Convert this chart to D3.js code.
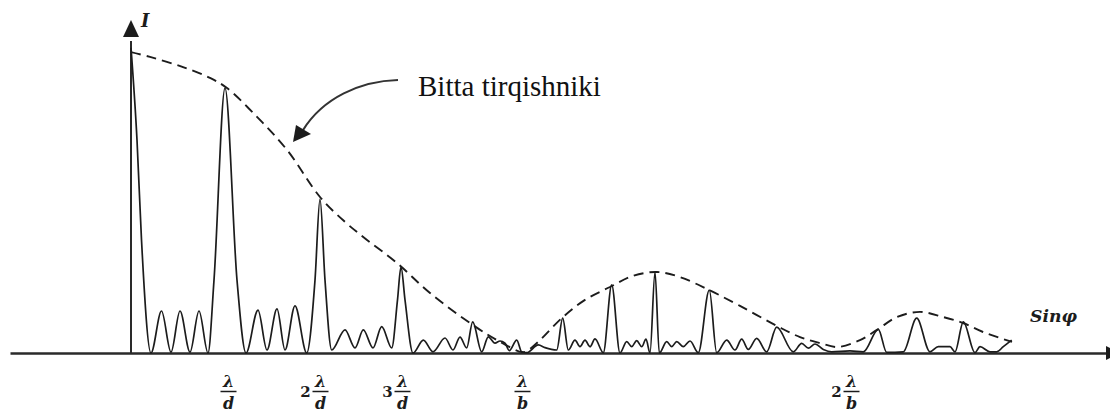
<!DOCTYPE html>
<html>
<head>
<meta charset="utf-8">
<script src="https://cdn.jsdelivr.net/npm/d3@7"></script>
<style>
  body { margin: 0; background: #fff; }
  svg { display: block; }
</style>
</head>
<body>
<svg id="chart" width="1110" height="412"></svg>
<script>
// Diffraction grating: intensity I versus sinφ (arbitrary units).
// Solid curve: grating pattern with principal maxima and weak ripples between them.
const gratingU = [
  0, 0.06, 0.105, 0.20,
  0.305, 0.40, 0.49, 0.59, 0.68, 0.77,
  0.83, 0.94, 1.06, 1.15,
  1.27, 1.36, 1.46, 1.54, 1.64, 1.757,
  1.84, 1.89, 1.94, 2.007,
  2.14, 2.24, 2.323, 2.42, 2.507, 2.607,
  2.665, 2.70, 2.74, 2.82,
  2.923, 3.02, 3.14, 3.22, 3.29, 3.357,
  3.417, 3.507, 3.573, 3.64, 3.69, 3.74, 3.783, 3.857, 3.907, 3.957,
  4.073, 4.14, 4.257, 4.317, 4.373,
  4.44, 4.49, 4.54, 4.59, 4.64, 4.723,
  4.807, 4.89,
  4.957, 5.007, 5.057, 5.107, 5.15, 5.19,
  5.24, 5.283,
  5.357, 5.407, 5.457, 5.523, 5.59, 5.673,
  5.783, 5.857,
  5.957, 6.04, 6.107, 6.173, 6.257, 6.357,
  6.457, 6.623,
  6.707, 6.773, 6.84, 6.923, 7.007, 7.19, 7.323,
  7.473, 7.557, 7.723,
  7.857, 7.99, 8.073, 8.19, 8.24,
  8.323, 8.44, 8.49, 8.59, 8.657, 8.723, 8.807
];
const gratingI = [
  101.7, 71, 37.7, 0,
  14, 0.3, 14, 0.3, 14, 0,
  24.3, 88.3, 24.3, 0,
  14.3, 1, 14.7, 1, 15.7, 0,
  24.3, 51.3, 24.3, 1,
  7.7, 1.7, 7.7, 1.7, 8.8, 1.7,
  17.7, 28.7, 17.7, 0,
  4.3, 0.4, 5, 1, 5.3, 1.7,
  10.4, 0.4, 5.4, 3.3, 4, 3.3, 0.8, 4.3, 0.4, 0.1,
  2.7, 1.8, 1, 11.6, 1,
  4.3, 2.1, 4.3, 2.1, 4.7, 0.1,
  22.7, 0,
  3.8, 2.1, 4.1, 2.1, 4.6, 0,
  27, 0,
  3.8, 2.1, 3.8, 2.1, 4, 0.1,
  21, 0.1,
  4.3, 1, 4.6, 1.2, 4.9, 0.4,
  8.6, 0.4,
  3.2, 1.6, 3, 1.2, 0.4, 0.7, 0.4,
  7.9, 0.2, 0.4,
  11.6, 0.4, 2.1, 2.1, 0.4,
  10.4, 0.1, 2.1, 0.4, 0.4, 2.1, 4.3
];

// Dashed curve: single-slit envelope
const envelopeU = [
  0, 0.19, 0.52, 0.79, 0.96, 1.26, 1.56, 1.89, 2.14, 2.36, 2.66, 2.99, 3.42, 3.66, 3.91,
  3.96, 4.09, 4.31, 4.54, 4.79, 5.02, 5.26, 5.49, 5.78, 6.09, 6.46, 6.69, 6.89, 7.07,
  7.29, 7.46, 7.66, 7.89, 8.12, 8.32, 8.52, 8.81
];
const envelopeI = [
  100.3, 98.7, 95.3, 91.7, 88.3, 78.7, 67.7, 52, 43.7, 37.7, 30, 20, 9.3, 4.3, 0.3,
  0.7, 4.3, 11.7, 17.7, 22, 25.7, 27, 25.3, 21, 15.7, 9, 5.3, 3.3, 2,
  4.3, 7.7, 12, 13.7, 12, 10, 7, 3.7
];

// Axis tick labels: coefficient · λ / denominator
const tickPos  = [0.97, 1.89, 2.71, 3.91, 7.20];
const tickCoef = ["", "2", "3", "", "2"];
const tickDen  = ["d", "d", "d", "b", "b"];

const ink = "#1c1c1c";
const svg = d3.select("#chart");

const x = d3.scaleLinear().domain([-1.21, 9.79]).range([10, 1110]);
const y = d3.scaleLinear().domain([0, 100]).range([353, 53]);

// ---- horizontal axis with fraction labels ----
const xAxis = d3.axisBottom(x)
  .tickValues(tickPos)
  .tickSize(0)
  .tickSizeOuter(0)
  .tickFormat(() => "");

const gx = svg.append("g")
  .attr("transform", `translate(0,${y(0)})`)
  .call(xAxis);
gx.select(".domain").attr("stroke", "#2a2a2a").attr("stroke-width", 2.4);

const labelFont = "'DejaVu Serif', 'Liberation Serif', serif";
gx.selectAll(".tick").each(function (d, i) {
  const g = d3.select(this);
  g.selectAll("text").remove();
  g.append("text")
    .attr("x", 0).attr("y", 34)
    .attr("text-anchor", "middle")
    .attr("font-family", labelFont)
    .attr("font-weight", "bold").attr("font-style", "italic")
    .attr("font-size", 16).attr("fill", ink)
    .text("λ");
  g.append("line")
    .attr("x1", -8).attr("x2", 8)
    .attr("y1", 38.5).attr("y2", 38.5)
    .attr("stroke", ink).attr("stroke-width", 1.5);
  g.append("text")
    .attr("x", 0).attr("y", 56)
    .attr("text-anchor", "middle")
    .attr("font-family", labelFont)
    .attr("font-weight", "bold").attr("font-style", "italic")
    .attr("font-size", 16).attr("fill", ink)
    .text(tickDen[i]);
  if (tickCoef[i]) {
    g.append("text")
      .attr("x", -15).attr("y", 44)
      .attr("text-anchor", "middle")
      .attr("font-family", labelFont)
      .attr("font-weight", "bold")
      .attr("font-size", 15).attr("fill", ink)
      .text(tickCoef[i]);
  }
});

// right-hand arrowhead of the sinφ axis
const ax0 = x.range()[1];
svg.append("path")
  .attr("d", `M${ax0 - 4},${y(0) - 7} L${ax0 + 10},${y(0)} L${ax0 - 4},${y(0) + 7} Z`)
  .attr("fill", ink);

// ---- vertical intensity axis ----
svg.append("line")
  .attr("x1", x(0)).attr("x2", x(0))
  .attr("y1", y(0)).attr("y2", y(104))
  .attr("stroke", "#2a2a2a").attr("stroke-width", 2);
svg.append("path")
  .attr("d", `M${x(0)},${y(111)} L${x(0) + 8},${y(105.3)} L${x(0) - 8},${y(105.3)} Z`)
  .attr("fill", ink);

svg.append("text")
  .attr("x", x(0) + 10).attr("y", 27)
  .attr("font-family", labelFont)
  .attr("font-weight", "bold").attr("font-style", "italic")
  .attr("font-size", 18).attr("fill", ink)
  .text("I");

svg.append("text")
  .attr("x", 1030).attr("y", 322)
  .attr("font-family", labelFont)
  .attr("font-weight", "bold").attr("font-style", "italic")
  .attr("font-size", 17).attr("fill", ink)
  .attr("textLength", 47).attr("lengthAdjust", "spacingAndGlyphs")
  .text("Sinφ");

// ---- curves ----
const grating = gratingU.map((u, i) => [u, gratingI[i]]);
const envelope = envelopeU.map((u, i) => [u, envelopeI[i]]);

svg.append("path")
  .datum(grating)
  .attr("d", d3.line().x(d => x(d[0])).y(d => y(d[1])).curve(d3.curveMonotoneX))
  .attr("fill", "none")
  .attr("stroke", ink)
  .attr("stroke-width", 1.7)
  .attr("stroke-linejoin", "round");

svg.append("path")
  .datum(envelope)
  .attr("d", d3.line().x(d => x(d[0])).y(d => y(d[1])).curve(d3.curveCatmullRom.alpha(0.5)))
  .attr("fill", "none")
  .attr("stroke", ink)
  .attr("stroke-width", 1.9)
  .attr("stroke-dasharray", "10,6");

// ---- annotation: single-slit envelope ----
svg.append("text")
  .attr("x", x(2.87)).attr("y", y(85.7))
  .attr("font-family", "'Liberation Serif', 'Times New Roman', serif")
  .attr("font-size", 29).attr("fill", "#111")
  .text("Bitta tirqishniki");

const a0 = [x(2.67), y(91)];
const a1 = [x(1.72), y(74.3)];
const tip = [x(1.62), y(70.3)];
svg.append("path")
  .attr("d", `M${a0[0]},${a0[1]} C${a0[0] - 38},${a0[1] + 1} ${a1[0] + 20},${a1[1] - 32} ${a1[0]},${a1[1]}`)
  .attr("fill", "none").attr("stroke", "#333").attr("stroke-width", 2);
svg.append("path")
  .attr("d", `M${tip[0]},${tip[1]} L${tip[0] + 3},${tip[1] - 17} L${tip[0] + 18},${tip[1] - 8} Z`)
  .attr("fill", ink);
</script>
</body>
</html>
